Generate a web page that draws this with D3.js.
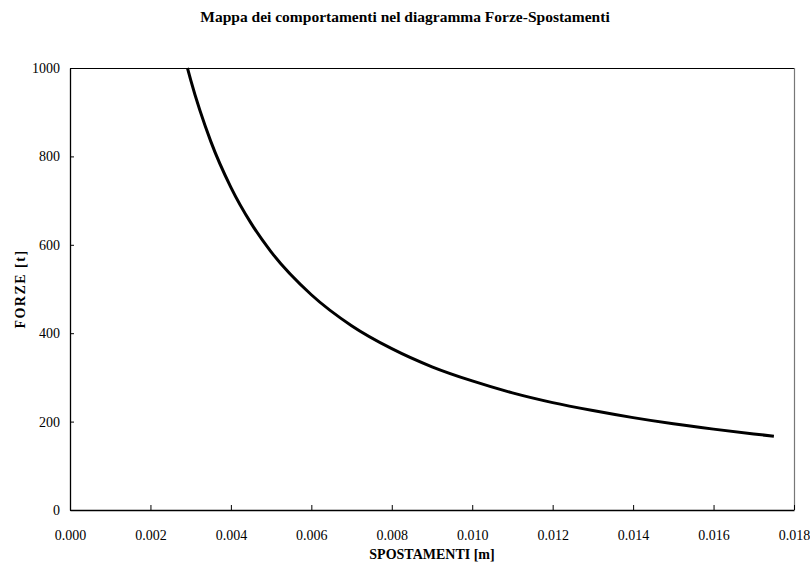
<!DOCTYPE html>
<html>
<head>
<meta charset="utf-8">
<script src="https://cdn.jsdelivr.net/npm/d3@7"></script>
<style>
  html, body { margin: 0; padding: 0; background: #fff; }
  svg { display: block; font-family: "Liberation Serif", "Times New Roman", serif; }
</style>
</head>
<body>
<svg id="chart" width="810" height="572"></svg>
<script>
// Displacement (m) and force (t) along the behaviour curve
const spostamenti = [0.00292, 0.0030, 0.0035, 0.0040, 0.0045, 0.0050, 0.0060, 0.0070, 0.0080,
                     0.0090, 0.0100, 0.0110, 0.0120, 0.0130, 0.0140, 0.0150, 0.0160, 0.0170, 0.0175];
const forze = [1000, 973, 834, 730, 649, 584, 487, 417, 365,
               324, 292, 265, 243, 225, 209, 195, 183, 172, 167];

const xTicks = [0, 0.002, 0.004, 0.006, 0.008, 0.010, 0.012, 0.014, 0.016, 0.018];
const yTicks = [0, 200, 400, 600, 800, 1000];

const titolo = "Mappa dei comportamenti nel diagramma Forze-Spostamenti";
const xLabel = "SPOSTAMENTI [m]";
const yLabel = "FORZE [t]";

const svg = d3.select("#chart");
const margin = { left: 70, top: 68, right: 16, bottom: 62 };
const W = 810, H = 572;
const plotW = W - margin.left - margin.right;
const plotH = H - margin.top - margin.bottom;

const x = d3.scaleLinear().domain([0, 0.018]).range([margin.left, margin.left + plotW]);
const y = d3.scaleLinear().domain([0, 1000]).range([margin.top + plotH, margin.top]);

// Plot frame: top and right edges
svg.append("line")
  .attr("x1", x(0)).attr("x2", x(0.018))
  .attr("y1", y(1000) + 0.5).attr("y2", y(1000) + 0.5)
  .attr("stroke", "#000").attr("stroke-width", 1);
svg.append("line")
  .attr("x1", x(0.018) + 0.5).attr("x2", x(0.018) + 0.5)
  .attr("y1", y(1000)).attr("y2", y(0))
  .attr("stroke", "#777").attr("stroke-width", 1.2);

// X axis with ticks pointing into the plot
const xAxis = d3.axisBottom(x).tickValues(xTicks).tickFormat(d3.format(".3f"))
  .tickSizeInner(-5).tickSizeOuter(0).tickPadding(20);
const gx = svg.append("g")
  .attr("transform", `translate(0,${y(0)})`)
  .call(xAxis);

// Y axis with ticks pointing into the plot
const yAxis = d3.axisLeft(y).tickValues(yTicks).tickFormat(d3.format("d"))
  .tickSizeInner(-4).tickSizeOuter(0).tickPadding(10);
const gy = svg.append("g")
  .attr("transform", `translate(${x(0)},0)`)
  .call(yAxis);

[gx, gy].forEach(g => {
  g.select(".domain").attr("stroke", "#000").attr("stroke-width", 1.3);
  g.selectAll(".tick line").attr("stroke", "#000").attr("stroke-width", 1);
  g.selectAll(".tick text")
    .attr("font-family", "'Liberation Serif', 'Times New Roman', serif")
    .attr("font-size", 14).attr("fill", "#000");
});

// Force-displacement curve
const line = d3.line()
  .x((d, i) => x(spostamenti[i]))
  .y(d => y(d))
  .curve(d3.curveMonotoneX);

svg.append("path")
  .datum(forze)
  .attr("d", line)
  .attr("fill", "none")
  .attr("stroke", "#000")
  .attr("stroke-width", 3)
  .attr("stroke-linejoin", "round");

// Titles
svg.append("text")
  .attr("x", 405).attr("y", 22)
  .attr("text-anchor", "middle")
  .attr("font-size", 15.5).attr("font-weight", "bold")
  .text(titolo);

svg.append("text")
  .attr("x", (x(0) + x(0.018)) / 2).attr("y", 559)
  .attr("text-anchor", "middle")
  .attr("font-size", 14).attr("font-weight", "bold")
  .text(xLabel);

svg.append("text")
  .attr("transform", `translate(25,${(y(0) + y(1000)) / 2}) rotate(-90)`)
  .attr("text-anchor", "middle")
  .attr("font-size", 14).attr("font-weight", "bold")
  .attr("letter-spacing", 1.5)
  .text(yLabel);
</script>
</body>
</html>
